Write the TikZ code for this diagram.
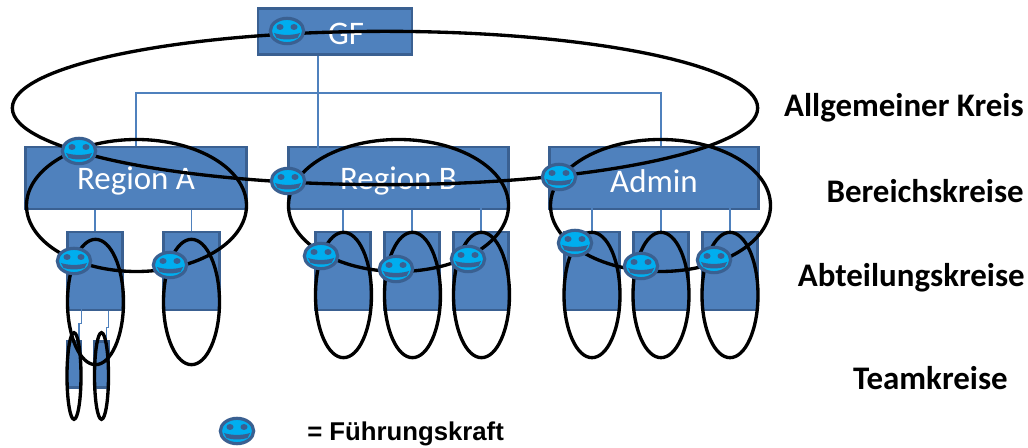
\documentclass[tikz,border=0pt]{standalone}
\usepackage{fontspec}
\setmainfont{Carlito}
\newfontfamily\legendfont{Liberation Sans}
\usetikzlibrary{shapes.geometric}
\definecolor{boxblue}{HTML}{4F81BD}
\definecolor{boxedge}{HTML}{3A6091}
\definecolor{facecyan}{HTML}{00AEEF}
\begin{document}
\begin{tikzpicture}[x=0.75pt,y=-0.75pt,
        orgbox/.style={draw=boxedge,line width=2.2pt,fill=boxblue,rectangle,inner sep=0pt,text=white},
        kreis/.style={draw=black,line width=2.5pt,ellipse,inner sep=0pt},
        smiley/.style={draw=boxedge,line width=2.4pt,fill=facecyan,ellipse,inner sep=0pt,minimum width=25pt,minimum height=19pt},
        orgline/.style={draw=boxblue,line width=0.8pt},
        kreislabel/.style={font=\bfseries\fontsize{24.7pt}{28pt}\selectfont,anchor=east,inner sep=0pt}]
    \useasboundingbox (0,0) rectangle (1028,448);
    \coordinate (bus) at (318,93);
    \coordinate (busend) at (661,146);
    \coordinate (gfend) at (318,155);
    \coordinate (jaga) at (81.5,302);
    \coordinate (jagb) at (108.5,311);
    % org lines sit on top of the boxes here and there
    \node[orgbox,minimum width=115.5pt,minimum height=34.5pt] (gf) at (335,31.5) {};
    \foreach \n/\x/\w in {rega/136/165.5,regb/398.5/165.5,admin/654/156.5}{
        \node[orgbox,minimum width=\w pt,minimum height=46.5pt] (\n) at (\x,178) {};
    }
    \draw[orgline] (gf.south -| bus) -- (bus) -- (gfend);
    \draw[orgline] (rega.north) |- (bus) -| (busend);
    \foreach \n/\p/\x in {aa/rega/95,ab/rega/191.5,ba/regb/343,bb/regb/412,bc/regb/481,ca/admin/592,cb/admin/661,cc/admin/730}{
        \node[orgbox,minimum width=41.5pt,minimum height=58.5pt] (\n) at (\x,271) {};
        \draw[orgline] (\n.north) -- (\n.north |- \p.south);
    }
    \draw[orgline] (bc.north) -- ++(0,-37);
    \draw[orgline] (ca.north) -- ++(0,-31);
    \draw[orgline] (cc.north) -- ++(0,-31);
    \foreach \n/\x in {ta/74,tb/101.5}{
        \node[orgbox,minimum width=10.5pt,minimum height=35pt] (\n) at (\x,364.5) {};
    }
    \draw[orgline] ([xshift=3.75pt]ta.north) -- ++(0,-16) -| (jaga);
    \draw[orgline] ([xshift=3.4pt]tb.north) -- ++(0,-12) -| (jagb);
    % labels of the boxes
    \node[text=white,font=\fontsize{24.7pt}{28pt}\selectfont] (gftext) at (346,34) {GF};
    \foreach \n/\x/\t in {ta1/136/Region A,tb1/398.5/Region B,tc1/654/Admin}{
        \node[text=white,font=\fontsize{24.7pt}{28pt}\selectfont] (\n) at (\x,181) {\t};
    }
    % circles
    \node[kreis,minimum width=559pt,minimum height=115pt] (allg) at (385,108) {};
    \foreach \n/\x in {kra/136.5,krb/398.5,krc/660.5}{
        \node[kreis,minimum width=165pt,minimum height=99pt] (\n) at (\x,205.5) {};
    }
    \foreach \n/\x/\y in {kaa/95.5/302,kab/191.5/302,kba/343.5/295,kbb/412.5/295,kbc/481.5/295,kca/592/295,kcb/661/295,kcc/730/295}{
        \node[kreis,minimum width=42pt,minimum height=94pt] (\n) at (\x,\y) {};
    }
    \foreach \n/\x in {kta/74,ktb/101.5}{
        \node[kreis,minimum width=10.5pt,minimum height=65pt] (\n) at (\x,376) {};
    }
    % leaders
    \foreach \n/\x/\y in {sgf/287/31,sa/79/151,sb/288/181,sc/559/177,saa/74/261,sab/170/265,sba/321/256,sbb/396/269,sbc/468/259,sca/575/243,scb/641/266,scc/714/260,sleg/237/431}{
        \node[smiley] (\n) at (\x,\y) {};
        \fill[boxedge] (\x-7,\y-4) ellipse (3.5 and 3);
        \fill[boxedge] (\x+7,\y-4) ellipse (3.5 and 3);
        \fill[boxedge] (\x-13,\y+2) .. controls (\x-6,\y+4.5) and (\x+6,\y+4.5) .. (\x+13,\y+2)
            -- (\x+10.5,\y+7) .. controls (\x+4,\y+9) and (\x-4,\y+9) .. (\x-10.5,\y+7) -- cycle;
    }
    % right hand texts
    \node[kreislabel] (lallg) at (1024,107.5) {Allgemeiner Kreis};
    \node[kreislabel] (lber) at (1024,191) {Bereichskreise};
    \node[kreislabel] (labt) at (1025,277.5) {Abteilungskreise};
    \node[kreislabel] (lteam) at (1008,378) {Teamkreise};
    \node[font=\legendfont\bfseries\fontsize{19.3pt}{22pt}\selectfont,anchor=west,inner sep=0pt] (lfk) at (307,434) {= Führungskraft};
\end{tikzpicture}
\end{document}
